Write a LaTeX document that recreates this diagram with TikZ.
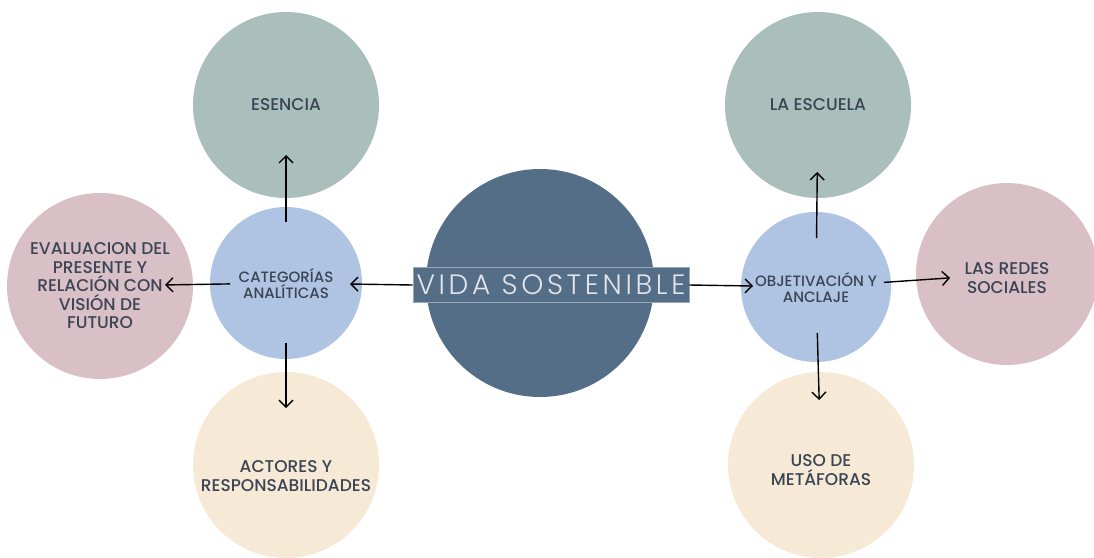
\documentclass[tikz,border=0pt]{standalone}
\usepackage{fontspec}
\setmainfont{Poppins}
\newfontfamily\medio{Poppins Medium}
\newfontfamily\ligera{Poppins Light}
\usetikzlibrary{arrows.meta}
\definecolor{verde}{HTML}{AABEBB}
\definecolor{centro}{HTML}{546E87}
\definecolor{azul}{HTML}{AFC4E3}
\definecolor{rosa}{HTML}{D9C0C7}
\definecolor{crema}{HTML}{F6E9D5}
\definecolor{texto}{HTML}{3B4454}
\tikzset{
  burbuja/.style={circle,inner sep=0pt,text=texto,align=center,font=\medio\fontsize{17}{18.5}\selectfont},
  flecha/.style={-{Straight Barb[length=7pt,width=14pt]},line width=1.4pt}
}
\begin{document}
\begin{tikzpicture}[x=1pt,y=-1pt]
  \useasboundingbox (0,0) rectangle (1094,557);
  \node[burbuja,fill=verde,minimum size=186pt] (esencia) at (286,105) {ESENCIA};
  \node[burbuja,fill=verde,minimum size=186pt] (escuela) at (818,105) {LA ESCUELA};
  \node[burbuja,fill=rosa,minimum size=186pt] (evaluacion) at (100,286)
    {EVALUACION DEL\\PRESENTE Y\\RELACIÓN CON\\VISIÓN DE\\FUTURO};
  \node[burbuja,fill=rosa,minimum size=182pt] (redes) at (1007,274) {\\[2pt]LAS REDES\\SOCIALES};
  \node[burbuja,fill=crema,minimum size=186pt] (actores) at (286,465) {\\[16pt]ACTORES Y\\RESPONSABILIDADES};
  \node[burbuja,fill=crema,minimum size=186pt] (metaforas) at (821,465) {\\[4pt]USO DE\\METÁFORAS};
  \node[burbuja,fill=azul,minimum size=152pt,font=\medio\fontsize{15}{16}\selectfont] (categorias) at (286,283) {CATEGORÍAS\\ANALÍTICAS};
  \node[burbuja,fill=azul,minimum size=150pt,font=\medio\fontsize{15}{16}\selectfont] (objetivacion) at (816,287) {OBJETIVACIÓN Y\\ANCLAJE};
  \node[circle,fill=centro,minimum size=228pt] (circulo) at (540,283) {};
  \node[fill=centro,draw=centro!60!white,line width=0.6pt,text={rgb,255:red,228;green,228;blue,234},
    minimum width=276pt,minimum height=35pt,inner sep=0pt,
    font=\ligera\fontsize{28}{30}\selectfont\addfontfeatures{LetterSpace=13}] (vida) at (551,285) {VIDA SOSTENIBLE};
  % conectores
  \draw[flecha,shorten >=64pt] (vida.west) -- (categorias.center);
  \draw[flecha,shorten >=63pt] (vida.east) -- (objetivacion.center);
  \draw[flecha,shorten <=61pt,shorten >=50pt] (categorias.center) -- (esencia.center);
  \draw[flecha,shorten <=56pt,shorten >=65pt] (categorias.center) -- (evaluacion.center);
  \draw[flecha,shorten <=60pt,shorten >=57pt] (categorias.center) -- (actores.center);
  \draw[flecha,shorten <=49pt,shorten >=67pt] (objetivacion.center) -- (escuela.center);
  \draw[flecha,shorten <=68pt,shorten >=57pt] (objetivacion.center) -- (redes.center);
  \draw[flecha,shorten <=46pt,shorten >=65pt] (objetivacion.center) -- (metaforas.center);
\end{tikzpicture}
\end{document}
